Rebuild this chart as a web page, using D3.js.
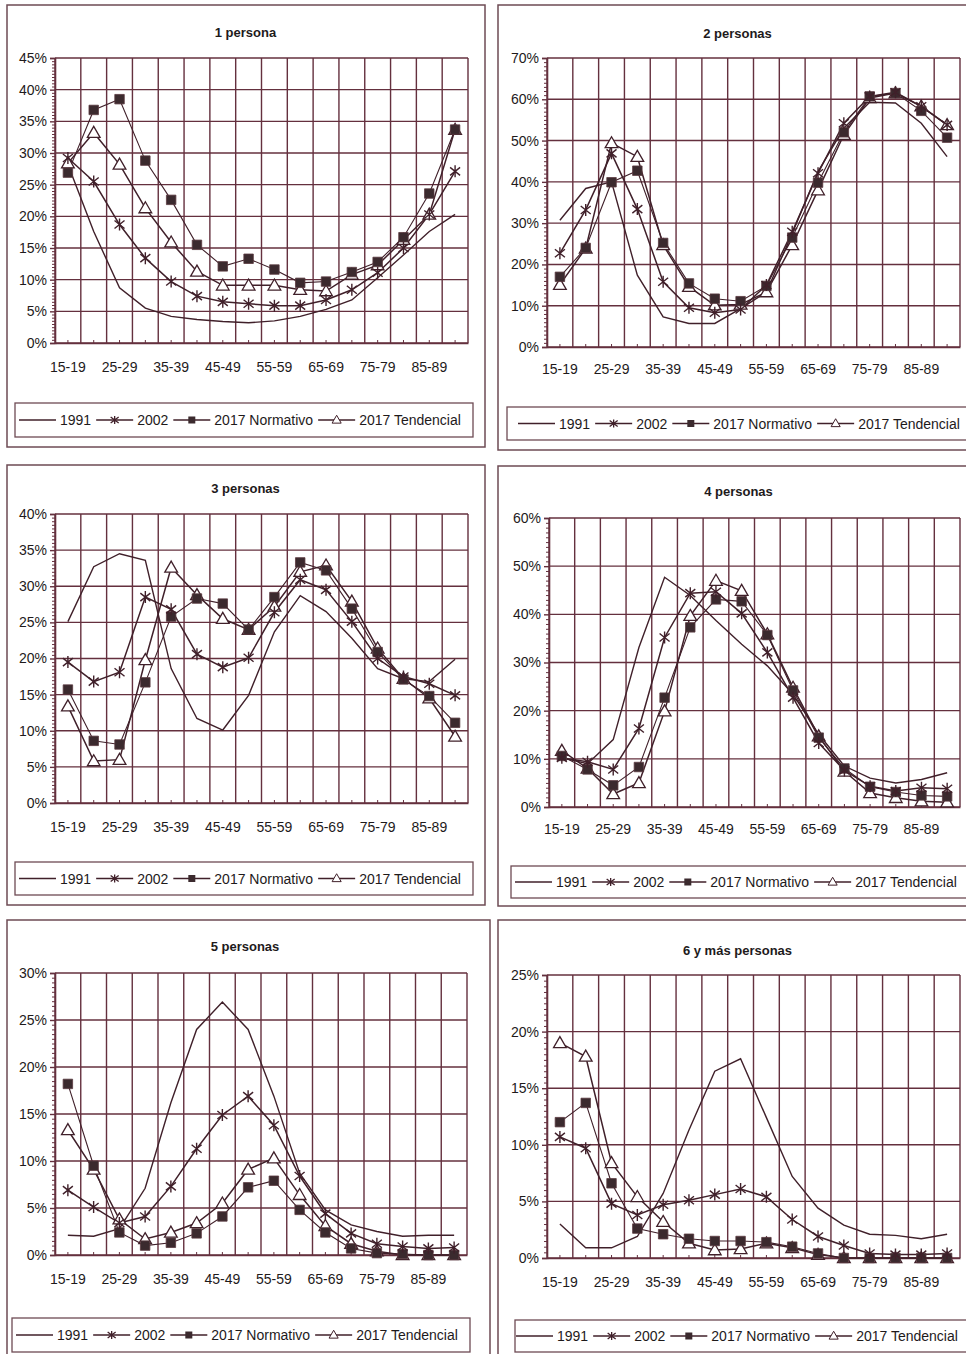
<!DOCTYPE html>
<html>
<head>
<meta charset="utf-8">
<script src="https://cdn.jsdelivr.net/npm/d3@7"></script>
<style>
  body { margin: 0; background: #fff; }
  svg { display: block; font-family: "Liberation Sans", Arial, sans-serif; }
</style>
</head>
<body>
<div id="chart"></div>
<script>

// categories and tick labels
var ageGroups = ["15-19", "20-24", "25-29", "30-34", "35-39", "40-44", "45-49", "50-54",
  "55-59", "60-64", "65-69", "70-74", "75-79", "80-84", "85-89", "90-94"];
var tickLabels = ["15-19", "25-29", "35-39", "45-49", "55-59", "65-69", "75-79", "85-89"];
var seriesNames = ["1991", "2002", "2017 Normativo", "2017 Tendencial"];

// 1 persona
var p1_1991 = [28.2, 17.6, 8.7, 5.5, 4.2, 3.7, 3.4, 3.2, 3.5, 4.2, 5.3, 6.8, 10.3, 13.9, 17.6, 20.3];
var p1_2002 = [29.2, 25.5, 18.7, 13.4, 9.7, 7.4, 6.5, 6.2, 5.9, 5.9, 6.8, 8.4, 11.1, 15.0, 20.3, 27.1];
var p1_norm = [26.9, 36.8, 38.5, 28.8, 22.6, 15.5, 12.1, 13.3, 11.6, 9.5, 9.7, 11.2, 12.8, 16.7, 23.6, 33.7];
var p1_tend = [28.4, 33.2, 28.2, 21.3, 15.9, 11.3, 9.1, 9.1, 9.1, 8.4, 8.2, 10.8, 12.3, 16.3, 20.3, 33.7];

// 2 personas
var p2_1991 = [30.7, 38.4, 40.0, 17.4, 7.3, 5.7, 5.7, 9.3, 13.3, 27.5, 42.5, 53.0, 59.3, 59.1, 54.2, 46.1];
var p2_2002 = [22.7, 33.2, 46.9, 33.4, 15.8, 9.5, 8.3, 9.1, 15.0, 27.9, 42.1, 54.2, 60.7, 61.7, 58.3, 53.8];
var p2_norm = [17.0, 24.0, 39.9, 42.7, 25.2, 15.4, 11.7, 11.1, 14.8, 26.5, 39.8, 52.0, 60.7, 61.5, 57.2, 50.7];
var p2_tend = [15.1, 23.9, 49.4, 46.1, 24.7, 14.6, 10.1, 10.3, 13.3, 24.7, 38.0, 51.4, 60.3, 61.5, 58.3, 53.8];

// 3 personas
var p3_1991 = [25.1, 32.7, 34.5, 33.6, 18.6, 11.7, 10.1, 14.9, 23.7, 28.7, 26.5, 22.8, 18.6, 17.2, 16.8, 19.9];
var p3_2002 = [19.5, 16.8, 18.1, 28.5, 26.8, 20.6, 18.8, 20.1, 26.4, 30.9, 29.5, 25.1, 20.0, 17.5, 16.5, 14.9];
var p3_norm = [15.7, 8.6, 8.1, 16.7, 25.8, 28.3, 27.6, 24.0, 28.5, 33.3, 32.2, 26.9, 20.9, 17.1, 14.8, 11.1];
var p3_tend = [13.4, 5.8, 6.0, 19.8, 32.6, 28.8, 25.5, 24.0, 27.2, 32.0, 32.9, 27.9, 21.4, 17.2, 14.5, 9.2];

// 4 personas
var p4_1991 = [10.2, 9.0, 14.0, 33.1, 47.7, 43.9, 38.7, 33.8, 29.3, 23.4, 15.1, 8.5, 6.0, 5.0, 5.7, 7.1];
var p4_2002 = [10.2, 9.4, 7.8, 16.3, 35.2, 44.4, 44.7, 40.2, 32.1, 22.7, 13.3, 7.6, 4.3, 3.3, 4.0, 3.8];
var p4_norm = [10.6, 7.8, 4.5, 8.3, 22.7, 37.3, 43.1, 42.7, 35.7, 24.2, 14.4, 8.0, 4.2, 3.1, 2.4, 2.2];
var p4_tend = [11.7, 8.0, 2.7, 5.0, 19.9, 39.7, 47.0, 44.9, 35.9, 24.8, 14.7, 7.4, 2.9, 1.9, 1.2, 1.0];

// 5 personas
var p5_1991 = [2.1, 2.0, 2.8, 7.1, 16.2, 24.0, 26.9, 24.0, 16.9, 8.7, 4.8, 3.2, 2.5, 2.0, 2.1, 2.1];
var p5_2002 = [6.9, 5.1, 3.4, 4.1, 7.3, 11.3, 14.9, 16.9, 13.8, 8.4, 4.4, 2.3, 1.2, 0.9, 0.7, 0.8];
var p5_norm = [18.2, 9.5, 2.4, 1.0, 1.3, 2.3, 4.1, 7.2, 7.9, 4.8, 2.4, 0.7, 0.2, 0.1, 0.0, 0.0];
var p5_tend = [13.3, 9.1, 3.8, 1.7, 2.4, 3.4, 5.5, 9.1, 10.3, 6.4, 3.1, 1.2, 0.4, 0.0, 0.0, 0.0];

// 6 y más personas
var p6_1991 = [3.0, 0.9, 0.9, 1.9, 5.7, 11.3, 16.5, 17.6, 12.4, 7.2, 4.4, 2.9, 2.1, 2.0, 1.7, 2.1];
var p6_2002 = [10.7, 9.7, 4.8, 3.8, 4.7, 5.1, 5.6, 6.1, 5.4, 3.4, 1.9, 1.1, 0.4, 0.3, 0.3, 0.4];
var p6_norm = [12.0, 13.7, 6.6, 2.6, 2.1, 1.7, 1.5, 1.5, 1.4, 1.0, 0.4, 0.0, 0.0, 0.0, 0.0, 0.0];
var p6_tend = [19.0, 17.8, 8.4, 5.4, 3.2, 1.3, 0.7, 0.8, 1.3, 0.9, 0.3, 0.0, 0.0, 0.0, 0.0, 0.0];

var lineColor = "#40202a";
var gridColor = "#64303e";
var frameColor = "#6e4b54";
var textColor = "#1e1a1b";

var svg = d3.select("#chart")
  .append("svg")
  .attr("width", 966)
  .attr("height", 1354);

// asterisk marker (vertical bar + X)
var asterisk = "M0,-6V6M-5,-4L5,4M-5,4L5,-4";

function drawMarker(g, type, cx, cy) {
  if (type === 1) {
    g.append("path")
      .attr("d", asterisk)
      .attr("transform", "translate(" + cx + "," + cy + ")")
      .attr("stroke", lineColor)
      .attr("stroke-width", 1.4)
      .attr("fill", "none");
  } else if (type === 2) {
    g.append("path")
      .attr("d", d3.symbol().type(d3.symbolSquare).size(90)())
      .attr("transform", "translate(" + cx + "," + cy + ")")
      .attr("fill", "#3b2a2e")
      .attr("stroke", "#5a3a40")
      .attr("stroke-width", 0.8);
  } else if (type === 3) {
    g.append("path")
      .attr("d", d3.symbol().type(d3.symbolTriangle).size(70)())
      .attr("transform", "translate(" + cx + "," + (cy + 1) + ")")
      .attr("fill", "#fff")
      .attr("stroke", lineColor)
      .attr("stroke-width", 1.3);
  }
}

function panel(cfg) {
  var g = svg.append("g");

  // outer frame
  g.append("rect")
    .attr("x", cfg.frame[0])
    .attr("y", cfg.frame[1])
    .attr("width", cfg.frame[2] - cfg.frame[0])
    .attr("height", cfg.frame[3] - cfg.frame[1])
    .attr("fill", "none")
    .attr("stroke", frameColor)
    .attr("stroke-width", 1.5);

  var left = cfg.plot[0], top = cfg.plot[1], right = cfg.plot[2], bottom = cfg.plot[3];

  var x = d3.scaleBand()
    .domain(ageGroups)
    .range([left, right])
    .padding(0);

  var y = d3.scaleLinear()
    .domain([0, cfg.ymax])
    .range([bottom, top]);

  // title
  g.append("text")
    .attr("x", (left + right) / 2 - 16)
    .attr("y", cfg.titleY)
    .attr("text-anchor", "middle")
    .attr("dominant-baseline", "central")
    .style("font-size", "13px")
    .style("font-weight", "bold")
    .attr("fill", textColor)
    .text(cfg.title);

  // grid
  var majors = d3.range(0, cfg.ymax + 0.001, cfg.step);
  g.append("g")
    .selectAll("line")
    .data(majors)
    .enter()
    .append("line")
    .attr("x1", left).attr("x2", right)
    .attr("y1", function (d) { return y(d); })
    .attr("y2", function (d) { return y(d); })
    .attr("stroke", gridColor)
    .attr("stroke-width", 1.4);

  var bounds = ageGroups.map(function (a) { return x(a); }).concat([right]);
  g.append("g")
    .selectAll("line")
    .data(bounds)
    .enter()
    .append("line")
    .attr("x1", function (d) { return d; })
    .attr("x2", function (d) { return d; })
    .attr("y1", top).attr("y2", bottom)
    .attr("stroke", gridColor)
    .attr("stroke-width", 1.4);

  // y axis
  var yAxis = d3.axisLeft(y)
    .tickValues(majors)
    .tickSize(5)
    .tickPadding(3)
    .tickFormat(function (d) { return d + "%"; });

  var ya = g.append("g")
    .attr("transform", "translate(" + left + ",0)")
    .call(yAxis);
  ya.select(".domain").attr("stroke", gridColor).attr("stroke-width", 1.6);
  ya.selectAll(".tick line").attr("stroke", gridColor).attr("stroke-width", 1.4);
  ya.selectAll(".tick text")
    .attr("fill", textColor)
    .style("font-size", "14px")
    .style("font-family", "'Liberation Sans', Arial, sans-serif");

  var minors = d3.range(1, Math.round(cfg.ymax / cfg.step * 10))
    .filter(function (i) { return i % 10 !== 0; })
    .map(function (i) { return i * cfg.step / 10; });
  var ym = g.append("g")
    .attr("transform", "translate(" + left + ",0)")
    .call(d3.axisLeft(y).tickValues(minors).tickSize(3).tickFormat(""));
  ym.select(".domain").remove();
  ym.selectAll(".tick line").attr("stroke", gridColor).attr("x2", -3).attr("x1", 1);

  // x axis
  var xAxis = d3.axisBottom(x)
    .tickValues(tickLabels)
    .tickSize(0)
    .tickPadding(cfg.labelPad);
  var xa = g.append("g")
    .attr("transform", "translate(0," + bottom + ")")
    .call(xAxis);
  xa.select(".domain").attr("stroke", gridColor).attr("stroke-width", 1.6);
  xa.selectAll(".tick text")
    .attr("fill", textColor)
    .style("font-size", "14px")
    .style("font-family", "'Liberation Sans', Arial, sans-serif");

  // small inner ticks at every category
  var xt = g.append("g")
    .attr("transform", "translate(0," + bottom + ")")
    .call(d3.axisBottom(x).tickSize(-3).tickFormat(""));
  xt.select(".domain").remove();
  xt.selectAll(".tick line").attr("stroke", gridColor);

  // lines
  var line = d3.line()
    .x(function (d, i) { return x(ageGroups[i]) + x.bandwidth() / 2; })
    .y(function (d) { return y(d); });

  var widths = [1.4, 1.5, 1.1, 1.5];
  cfg.series.forEach(function (s, k) {
    g.append("path")
      .datum(s)
      .attr("d", line)
      .attr("fill", "none")
      .attr("stroke", lineColor)
      .attr("stroke-width", widths[k]);
  });

  // markers: tendencial under normativo, then asterisks
  [3, 2, 1].forEach(function (k) {
    cfg.series[k].forEach(function (v, i) {
      drawMarker(g, k, x(ageGroups[i]) + x.bandwidth() / 2, y(v));
    });
  });

  // legend
  var lg = cfg.legend;
  g.append("rect")
    .attr("x", lg[0])
    .attr("y", lg[1])
    .attr("width", lg[2] - lg[0])
    .attr("height", lg[3] - lg[1])
    .attr("fill", "#fff")
    .attr("stroke", frameColor)
    .attr("stroke-width", 1.3);

  var cy = (lg[1] + lg[3]) / 2;
  var cx = cfg.legendStart;
  seriesNames.forEach(function (name, k) {
    g.append("line")
      .attr("x1", cx).attr("x2", cx + 37)
      .attr("y1", cy).attr("y2", cy)
      .attr("stroke", lineColor)
      .attr("stroke-width", 1.3);
    if (k === 1) {
      g.append("path")
        .attr("d", "M0,-4V4M-4,-3L4,3M-4,3L4,-3")
        .attr("transform", "translate(" + (cx + 18.5) + "," + cy + ")")
        .attr("stroke", lineColor).attr("stroke-width", 1.3).attr("fill", "none");
    } else if (k === 2) {
      g.append("rect")
        .attr("x", cx + 15).attr("y", cy - 3.5)
        .attr("width", 7).attr("height", 7)
        .attr("fill", "#3b2a2e");
    } else if (k === 3) {
      g.append("path")
        .attr("d", d3.symbol().type(d3.symbolTriangle).size(36)())
        .attr("transform", "translate(" + (cx + 18.5) + "," + (cy + 0.5) + ")")
        .attr("fill", "#fff").attr("stroke", lineColor).attr("stroke-width", 1);
    }
    var t = g.append("text")
      .attr("x", cx + 41)
      .attr("y", cy)
      .attr("dominant-baseline", "central")
      .style("font-size", "14px")
      .attr("fill", textColor)
      .text(name);
    cx = cx + 41 + t.node().getComputedTextLength() + 5;
  });
}

panel({
  title: "1 persona", titleY: 32, ymax: 45, step: 5, labelPad: 19,
  frame: [7, 5, 485, 447], plot: [55, 58, 468, 343],
  legend: [15, 403, 473, 437], legendStart: 19,
  series: [p1_1991, p1_2002, p1_norm, p1_tend]
});
panel({
  title: "2 personas", titleY: 33, ymax: 70, step: 10, labelPad: 17,
  frame: [498, 5, 980, 450], plot: [547, 58, 960, 347],
  legend: [507, 407, 980, 440], legendStart: 518,
  series: [p2_1991, p2_2002, p2_norm, p2_tend]
});
panel({
  title: "3 personas", titleY: 488, ymax: 40, step: 5, labelPad: 19,
  frame: [7, 465, 485, 905], plot: [55, 514, 468, 803],
  legend: [15, 862, 473, 895], legendStart: 19,
  series: [p3_1991, p3_2002, p3_norm, p3_tend]
});
panel({
  title: "4 personas", titleY: 491, ymax: 60, step: 10, labelPad: 17,
  frame: [498, 466, 980, 906], plot: [549, 518, 960, 807],
  legend: [511, 866, 980, 898], legendStart: 515,
  series: [p4_1991, p4_2002, p4_norm, p4_tend]
});
panel({
  title: "5 personas", titleY: 946, ymax: 30, step: 5, labelPad: 19,
  frame: [7, 920, 490, 1360], plot: [55, 973, 467, 1255],
  legend: [12, 1318, 470, 1352], legendStart: 16,
  series: [p5_1991, p5_2002, p5_norm, p5_tend]
});
panel({
  title: "6 y más personas", titleY: 950, ymax: 25, step: 5, labelPad: 19,
  frame: [498, 920, 980, 1360], plot: [547, 975, 960, 1258],
  legend: [515, 1320, 980, 1352], legendStart: 516,
  series: [p6_1991, p6_2002, p6_norm, p6_tend]
});

</script>
</body>
</html>
